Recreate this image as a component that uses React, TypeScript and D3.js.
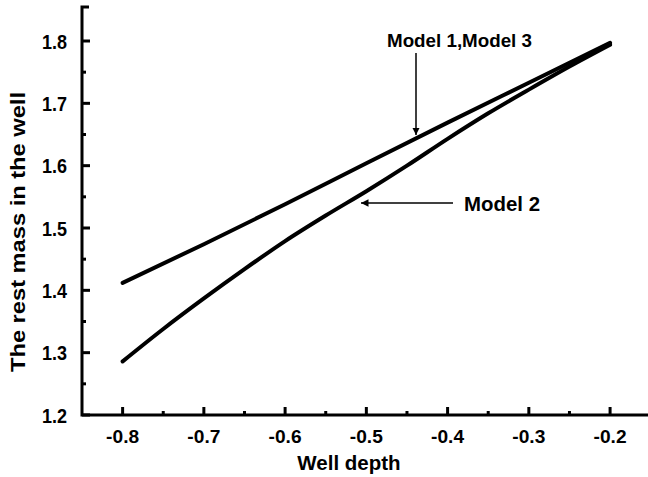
import React, { useEffect, useRef } from 'react'
import * as d3 from 'd3'

// well depth values and rest mass for each model
const depthM13 = [-0.8, -0.7, -0.6, -0.5, -0.4, -0.3, -0.2]
const massM13 = [1.412, 1.474, 1.538, 1.604, 1.669, 1.733, 1.797]
const depthM2 = [-0.8, -0.75, -0.7, -0.65, -0.6, -0.55, -0.5, -0.45, -0.4, -0.35, -0.3, -0.25, -0.2]
const massM2 = [1.286, 1.338, 1.387, 1.434, 1.479, 1.52, 1.559, 1.6, 1.643, 1.684, 1.722, 1.759, 1.794]
const xTicks = [-0.8, -0.7, -0.6, -0.5, -0.4, -0.3, -0.2]
const xMinor = [-0.75, -0.65, -0.55, -0.45, -0.35, -0.25]
const yTicks = [1.2, 1.3, 1.4, 1.5, 1.6, 1.7, 1.8]
const yMinor = [1.25, 1.35, 1.45, 1.55, 1.65, 1.75]

const font = "'Liberation Sans', Arial, sans-serif"
const fmt = (v) => v.toFixed(1)

const App = () => {
  const svgRef = useRef(null)

  useEffect(() => {
    const width = 648
    const height = 477
    const left = 82
    const bottom = 415
    const xScale = d3.scaleLinear().domain([-0.85, -0.15]).range([left, 650.7])
    const yScale = d3.scaleLinear().domain([1.2, 1.8]).range([bottom, 41])

    const svg = d3.select(svgRef.current)
    svg.selectAll('*').remove()
    svg.attr('width', width).attr('height', height)

    const line = d3
      .line()
      .x((d) => xScale(d[0]))
      .y((d) => yScale(d[1]))
      .curve(d3.curveMonotoneX)

    const m13 = depthM13.map((x, i) => [x, massM13[i]])
    const m2 = depthM2.map((x, i) => [x, massM2[i]])
    ;[m13, m2].forEach((s) => {
      svg
        .append('path')
        .datum(s)
        .attr('d', line)
        .attr('fill', 'none')
        .attr('stroke', '#000')
        .attr('stroke-width', 4)
        .attr('stroke-linecap', 'round')
    })

    // axes
    const topY = 7
    svg
      .append('path')
      .attr('d', `M${left + 7},${topY} H${left} V${bottom} H${width}`)
      .attr('fill', 'none')
      .attr('stroke', '#000')
      .attr('stroke-width', 3)

    const tickGroup = svg.append('g').attr('stroke', '#000').attr('stroke-width', 3)
    xTicks.forEach((t) => {
      tickGroup.append('line').attr('x1', xScale(t)).attr('x2', xScale(t)).attr('y1', bottom).attr('y2', bottom - 8)
    })
    xMinor.forEach((t) => {
      tickGroup.append('line').attr('x1', xScale(t)).attr('x2', xScale(t)).attr('y1', bottom).attr('y2', bottom - 4)
    })
    yTicks.forEach((t) => {
      tickGroup.append('line').attr('x1', left).attr('x2', left + 8).attr('y1', yScale(t)).attr('y2', yScale(t))
    })
    yMinor.forEach((t) => {
      tickGroup.append('line').attr('x1', left).attr('x2', left + 4).attr('y1', yScale(t)).attr('y2', yScale(t))
    })

    const labels = svg
      .append('g')
      .attr('font-family', font)
      .attr('font-weight', 'bold')
      .attr('fill', '#000')
    xTicks.forEach((t) => {
      labels
        .append('text')
        .attr('x', xScale(t))
        .attr('y', 443)
        .attr('font-size', 18.5)
        .attr('text-anchor', 'middle')
        .attr('textLength', 33)
        .attr('lengthAdjust', 'spacingAndGlyphs')
        .text(fmt(t))
    })
    yTicks.forEach((t) => {
      labels
        .append('text')
        .attr('x', 67)
        .attr('y', yScale(t) + 7.5)
        .attr('font-size', 21)
        .attr('text-anchor', 'end')
        .attr('textLength', 25)
        .attr('lengthAdjust', 'spacingAndGlyphs')
        .text(fmt(t))
    })

    svg
      .append('text')
      .attr('x', 349)
      .attr('y', 470)
      .attr('text-anchor', 'middle')
      .attr('font-family', font)
      .attr('font-weight', 'bold')
      .attr('font-size', 20.5)
      .text('Well depth')

    svg
      .append('text')
      .attr('transform', `translate(25, ${yScale(1.5) + 4}) rotate(-90)`)
      .attr('text-anchor', 'middle')
      .attr('font-family', font)
      .attr('font-weight', 'bold')
      .attr('font-size', 21)
      .attr('textLength', 280)
      .attr('lengthAdjust', 'spacingAndGlyphs')
      .text('The rest mass in the well')

    // annotations
    const defs = svg.append('defs')
    defs
      .append('marker')
      .attr('id', 'arrow')
      .attr('viewBox', '0 0 10 10')
      .attr('refX', 10)
      .attr('refY', 5)
      .attr('markerWidth', 5)
      .attr('markerHeight', 6)
      .attr('orient', 'auto')
      .append('path')
      .attr('d', 'M0,0 L10,5 L0,10 z')
      .attr('fill', '#000')

    svg
      .append('text')
      .attr('x', 387)
      .attr('y', 47)
      .attr('font-family', font)
      .attr('font-weight', 'bold')
      .attr('font-size', 19)
      .attr('textLength', 145)
      .attr('lengthAdjust', 'spacingAndGlyphs')
      .text('Model 1,Model 3')
    svg
      .append('line')
      .attr('x1', 416)
      .attr('x2', 416)
      .attr('y1', 53)
      .attr('y2', 135)
      .attr('stroke', '#000')
      .attr('stroke-width', 1.5)
      .attr('marker-end', 'url(#arrow)')

    svg
      .append('text')
      .attr('x', 464)
      .attr('y', 211)
      .attr('font-family', font)
      .attr('font-weight', 'bold')
      .attr('font-size', 21)
      .attr('textLength', 76)
      .attr('lengthAdjust', 'spacingAndGlyphs')
      .text('Model 2')
    svg
      .append('line')
      .attr('x1', 453)
      .attr('x2', 361)
      .attr('y1', 203)
      .attr('y2', 203)
      .attr('stroke', '#000')
      .attr('stroke-width', 1.5)
      .attr('marker-end', 'url(#arrow)')
  }, [])

  return <svg ref={svgRef} style={{ position: 'absolute', left: 0, top: 0 }} />
}

export default App
